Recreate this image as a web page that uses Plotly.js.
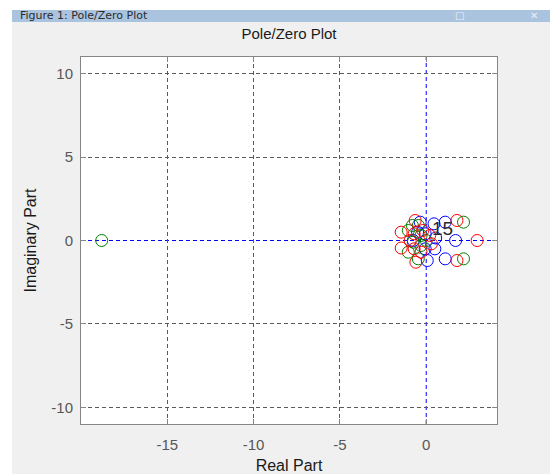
<!DOCTYPE html>
<html>
<head>
<meta charset="utf-8">
<script src="https://cdn.plot.ly/plotly-3.0.1.min.js"></script>
<style>
html,body{margin:0;padding:0;background:#ffffff;overflow:hidden;}
#plot{position:absolute;left:12px;top:10px;width:538px;height:464px;}
</style>
</head>
<body>
<div id="plot"></div>
<script>
// Pole/zero locations
const blueReal  = [-0.35, -0.06, -0.06, 0.06, 0.45, 1.1, 1.7, 1.1, 0.55, 0.5, -0.75, -0.5];
const blueImag  = [ 1.1,   0.4,  -0.5, -1.2,  1.0, 1.1, 0.0, -1.1, 0.15, -0.5, 0.0, 0.5];
const greenReal = [-1.04, -1.04, -0.46, -0.46, -0.75, -0.3, -0.3, 0.0, -0.8, 2.16, 2.16, -18.8];
const greenImag = [ 0.6,  -0.7,   0.9,  -1.1,  -0.1,  0.3, -0.3, 0.0,  0.9, 1.1, -1.1,  0.0];
const redReal   = [-1.45, -1.45, -0.64, -0.6, -0.93, -0.2, -0.3, 0.2, 0.3, -0.7, -0.7, 1.78, 1.78, 2.95];
const redImag   = [ 0.5,  -0.45,  1.2,  -1.3,  0.0,  0.6, -0.7, 0.3, -0.2, 0.4, -0.5, 1.2, -1.2, 0.0];
const xTicks = [-15, -10, -5, 0];
const yTicks = [-10, -5, 0, 5, 10];
const multLabel = {x: 0.93, y: 0.7, text: '15'};

const mk = (x, y, c) => ({
  x: x, y: y, type: 'scatter', mode: 'markers', hoverinfo: 'skip',
  marker: {symbol: 'circle-open', size: 12, color: c, line: {width: 1, color: c}}
});
const data = [mk(blueReal, blueImag, '#0000ff'), mk(greenReal, greenImag, '#008000'), mk(redReal, redImag, '#ff0000')];

const F = 'Liberation Sans, Arial, sans-serif';
const axisCommon = {
  showline: true, linecolor: '#868686', linewidth: 1, mirror: 'ticks',
  ticks: 'inside', ticklen: 5, tickcolor: '#868686',
  showgrid: true, gridcolor: '#5a5a5a', gridwidth: 1, griddash: '4px,3px',
  zeroline: true, zerolinecolor: 'rgba(0,0,0,0)',
  tickfont: {family: F, size: 15, color: '#575757'},
  fixedrange: true
};

const layout = {
  width: 538, height: 464,
  margin: {l: 69, r: 53, t: 47, b: 50},
  paper_bgcolor: '#f0f0f0', plot_bgcolor: '#ffffff',
  showlegend: false,
  title: {text: 'Pole/Zero Plot', font: {family: F, size: 15, color: '#1a1a1a'},
          x: 0.5, xref: 'paper', xanchor: 'center', y: 1.0436, yref: 'paper', yanchor: 'middle'},
  xaxis: Object.assign({}, axisCommon, {
    range: [-20, 4.1], tickvals: xTicks, ticktext: xTicks.map(String), ticklabelstandoff: 7,
    title: {text: 'Real Part', font: {family: F, size: 16, color: '#1a1a1a'}, standoff: 9}
  }),
  yaxis: Object.assign({}, axisCommon, {
    range: [-11, 11], tickvals: yTicks, ticktext: yTicks.map(String), ticklabelstandoff: 4,
    title: {text: 'Imaginary Part', font: {family: F, size: 16, color: '#1a1a1a'}, standoff: 10}
  }),
  shapes: [
    {type: 'line', xref: 'x', yref: 'paper', x0: 0, x1: 0, y0: 0, y1: 1, layer: 'below',
     line: {color: '#0000ff', width: 1, dash: '4px,3px'}},
    {type: 'line', xref: 'paper', yref: 'y', x0: 0, x1: 1, y0: 0, y1: 0, layer: 'below',
     line: {color: '#0000ff', width: 1, dash: '4px,3px'}},
    {type: 'rect', xref: 'paper', yref: 'paper', x0: -0.2, x1: 1.2, y0: 1.0954, y1: 1.2,
     fillcolor: '#aac4e0', line: {width: 0}, layer: 'above'}
  ],
  annotations: [
    {xref: 'x', yref: 'y', x: multLabel.x, y: multLabel.y, text: multLabel.text, showarrow: false,
     font: {family: F, size: 19, color: '#2a2a2a'}},
    {xref: 'paper', yref: 'paper', x: -0.1514, y: 1.112, xanchor: 'left', yanchor: 'middle',
     text: 'Figure 1: Pole/Zero Plot', showarrow: false, font: {family: 'DejaVu Sans, sans-serif', size: 11, color: '#2b2b2b'}},
    {xref: 'paper', yref: 'paper', x: 0.91, y: 1.112, xanchor: 'center', yanchor: 'middle',
     text: '□', showarrow: false, font: {family: 'DejaVu Sans, sans-serif', size: 10, color: '#e8eef6'}},
    {xref: 'paper', yref: 'paper', x: 1.09, y: 1.112, xanchor: 'center', yanchor: 'middle',
     text: '✕', showarrow: false, font: {family: 'DejaVu Sans, sans-serif', size: 10, color: '#e8eef6'}}
  ]
};

Plotly.newPlot('plot', data, layout, {displayModeBar: false, staticPlot: true});
</script>
</body>
</html>
